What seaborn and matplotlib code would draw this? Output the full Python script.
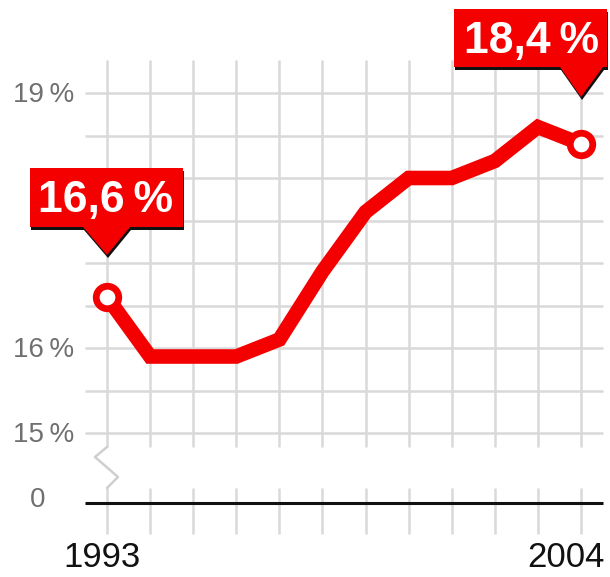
import matplotlib
matplotlib.use("Agg")
import matplotlib.pyplot as plt
import matplotlib.transforms as mtransforms
from matplotlib.patches import Polygon
import pandas as pd
import seaborn as sns

# Share (%) per year
years = list(range(1993, 2005))
share = [16.6, 15.9, 15.9, 15.9, 16.1, 16.9, 17.6, 18.0, 18.0, 18.2, 18.6, 18.4]

# Axis labels
ytick_values = [15, 16, 19]
ytick_labels = ["15\u2009%", "16\u2009%", "19\u2009%"]
grid_values = [15.0, 15.5, 16.0, 16.5, 17.0, 17.5, 18.0, 18.5, 19.0]
zero_label = "0"
year_labels = ["1993", "2004"]

RED = "#f50000"
GRID = "#d9d9d9"
TICK_GREY = "#707070"

sns.set_theme(style="white")
plt.rcParams["font.family"] = ["Liberation Sans", "DejaVu Sans"]

df = pd.DataFrame({"year": years, "share": share})

W, H, DPI = 610, 577, 100
fig = plt.figure(figsize=(W / DPI, H / DPI), dpi=DPI)
ax = fig.add_axes([0, 0, 1, 1])
ax.set_axis_off()

# scale: one year = 43.09 px, one percent = 85 px
px_per_year = (581 - 107) / 11
px_per_pct = 85.0
ax.set_xlim(1993 - 107 / px_per_year, 1993 + (W - 107) / px_per_year)
ax.set_ylim(16 - (H - 348) / px_per_pct, 16 + 348 / px_per_pct)


def px_offset(x, y):
    """Pixel offsets (y pointing down) around a data anchor."""
    return mtransforms.Affine2D().scale(1, -1) + mtransforms.ScaledTranslation(x, y, ax.transData)


# value where the broken axis draws its zero line
zero_pos = 16 - (503 - 348) / px_per_pct
grid_left = years[0] - 22 / px_per_year
grid_right = years[-1] + 22 / px_per_year
grid_top = 19 + 33 / px_per_pct
grid_bottom = 15 - 14 / px_per_pct

# grid
ax.hlines(grid_values, grid_left, grid_right, color=GRID, lw=1.8, zorder=1)
ax.vlines(years, grid_bottom, grid_top, color=GRID, lw=1.8, zorder=1)
# tick stubs below the break
ax.vlines(years, zero_pos - 31 / px_per_pct, zero_pos + 15 / px_per_pct, color=GRID, lw=1.8, zorder=1)
# break zig-zag on the first year
ax.plot([0, -12, 11, 0], [0, 10, 30, 41], color="#cfcfcf", lw=1.8,
        transform=px_offset(years[0], grid_bottom), zorder=1)
# zero baseline
ax.hlines(zero_pos, grid_left, grid_right, color="#111111", lw=2.2, zorder=2)

# tick labels
for v, lab in zip(ytick_values, ytick_labels):
    ax.text(-33, 9, lab, transform=px_offset(years[0], v), ha="right", va="baseline",
            fontsize=20, color=TICK_GREY)
ax.text(-62, 4, zero_label, transform=px_offset(years[0], zero_pos), ha="right", va="baseline",
        fontsize=20, color=TICK_GREY)

# year labels
ax.text(-5, 64, year_labels[0], transform=px_offset(years[0], zero_pos), ha="center",
        va="baseline", fontsize=25, color="#111111")
ax.text(24, 64, year_labels[1], transform=px_offset(years[-1], zero_pos), ha="right",
        va="baseline", fontsize=25, color="#111111")

# the series
sns.lineplot(data=df, x="year", y="share", ax=ax, color=RED, lw=10.5,
             solid_joinstyle="miter", solid_capstyle="butt", zorder=3)
ends = df.iloc[[0, -1]]
ax.plot(ends["year"], ends["share"], "o", ms=16.2, mew=4.9, mec=RED, mfc="white", zorder=4)


def callout(x, y, box, pointer, text_xy):
    left, right, top, bottom = box
    p_left, p_right, tip = pointer
    verts = [(left, bottom), (p_left, bottom), (0, tip), (p_right, bottom),
             (right, bottom), (right, top), (left, top)]
    shadow = [(vx + 1, vy + 3) for vx, vy in verts]
    ax.add_patch(Polygon(shadow, closed=True, fc="#111111", ec="none",
                         transform=px_offset(x, y), zorder=5))
    ax.add_patch(Polygon(verts, closed=True, fc=RED, ec="none",
                         transform=px_offset(x, y), zorder=6))
    label = f"{y:.1f}".replace(".", ",") + "\u2009%"
    ax.text(text_xy[0], text_xy[1], label, transform=px_offset(x, y), ha="center",
            va="baseline", fontsize=32, fontweight="bold", color="white", zorder=7)


callout(years[0], share[0], (-77, 76, -129, -70), (-24, 23, -42), (-1, -85))
callout(years[-1], share[-1], (-127, 26, -135, -77), (-21, 22, -47), (-49, -91))

fig.savefig("out.png", dpi=DPI, facecolor="white")
